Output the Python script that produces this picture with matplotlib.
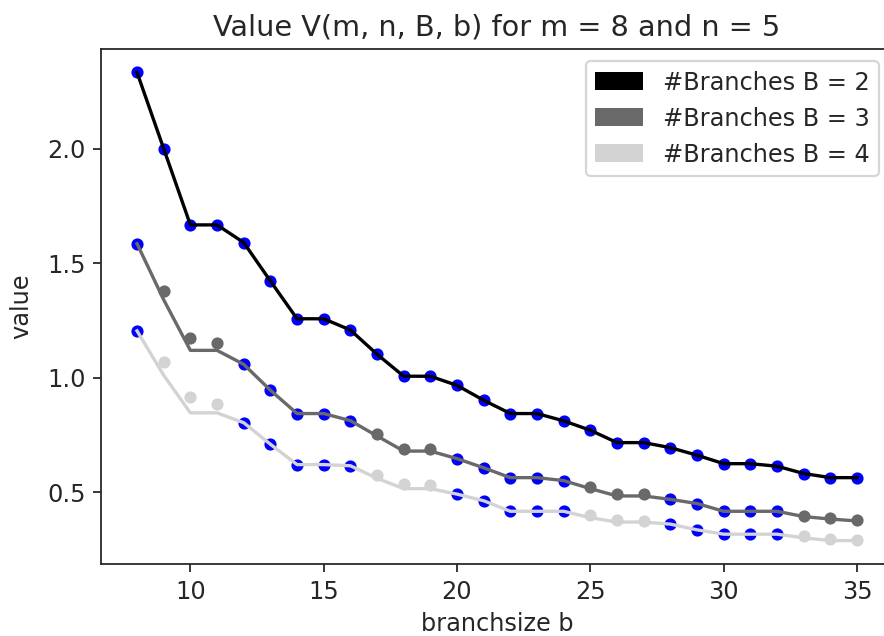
import matplotlib
matplotlib.use('Agg')
import matplotlib.pyplot as plt
import numpy as np
from matplotlib.patches import Patch

# branch sizes b = 8 .. 35
branchsize = list(range(8, 36))

# values (dots) and the lower curve (line)
value_b2 = [2.333, 2.000, 1.667, 1.667, 1.590, 1.422, 1.257, 1.257, 1.208, 1.102,
            1.006, 1.006, 0.966, 0.901, 0.843, 0.843, 0.811, 0.770, 0.716, 0.716,
            0.694, 0.661, 0.624, 0.624, 0.613, 0.581, 0.563, 0.563]
line_b2 = list(value_b2)

value_b3 = [1.585, 1.380, 1.173, 1.151, 1.058, 0.945, 0.843, 0.843, 0.812, 0.755,
            0.690, 0.690, 0.646, 0.606, 0.563, 0.563, 0.550, 0.522, 0.490, 0.490,
            0.468, 0.450, 0.416, 0.416, 0.416, 0.397, 0.386, 0.377]
line_b3 = [1.585, 1.340, 1.119, 1.119, 1.058, 0.945, 0.843, 0.843, 0.812, 0.745,
           0.679, 0.679, 0.646, 0.606, 0.563, 0.563, 0.550, 0.515, 0.483, 0.483,
           0.468, 0.450, 0.416, 0.416, 0.416, 0.393, 0.382, 0.374]

value_b4 = [1.204, 1.068, 0.915, 0.885, 0.803, 0.709, 0.620, 0.620, 0.615, 0.576,
            0.537, 0.530, 0.491, 0.462, 0.416, 0.416, 0.416, 0.398, 0.377, 0.375,
            0.360, 0.335, 0.316, 0.316, 0.316, 0.306, 0.293, 0.292]
line_b4 = [1.204, 1.010, 0.846, 0.846, 0.803, 0.709, 0.620, 0.620, 0.615, 0.560,
           0.515, 0.515, 0.491, 0.462, 0.416, 0.416, 0.416, 0.388, 0.369, 0.369,
           0.360, 0.335, 0.316, 0.316, 0.316, 0.300, 0.288, 0.288]

branches = [2, 3, 4]
colors = ['black', 'dimgray', 'lightgray']

plt.rcParams['font.size'] = 10.8
plt.rcParams['text.color'] = '#262626'
plt.rcParams['xtick.color'] = '#262626'
plt.rcParams['ytick.color'] = '#262626'
plt.rcParams['axes.labelcolor'] = '#262626'
plt.rcParams['axes.edgecolor'] = '#262626'

dpi = 160
fig = plt.figure(figsize=(884 / dpi, 636 / dpi), dpi=dpi)
ax = fig.add_axes([0.1143, 0.1132, 0.8959, 0.8097])

x = np.array(branchsize)
for B, col, vals, low in zip(branches, colors,
                             [value_b2, value_b3, value_b4],
                             [line_b2, line_b3, line_b4]):
    vals = np.array(vals)
    low = np.array(low)
    tight = np.isclose(vals, low)
    ax.scatter(x[~tight], vals[~tight], s=20, color=col)
    ax.scatter(x[tight], vals[tight], s=20, color='blue')
    ax.plot(x, low, color=col, linewidth=1.5)

ax.set_title('Value V(m, n, B, b) for m = 8 and n = 5')
ax.set_xlabel('branchsize b')
ax.set_ylabel('value', labelpad=6)
ax.set_xticks([10, 15, 20, 25, 30, 35])
ax.set_yticks([0.5, 1.0, 1.5, 2.0])
ax.spines['right'].set_visible(False)

handles = [Patch(facecolor=c, label='#Branches B = %d' % B) for B, c in zip(branches, colors)]
leg = ax.legend(handles=handles, loc='upper right', labelspacing=0.5, handleheight=0.8,
                bbox_to_anchor=(879 / 884, 1 - 61 / 636), bbox_transform=fig.transFigure,
                borderaxespad=0)

fig.savefig('out.png', dpi=dpi)
